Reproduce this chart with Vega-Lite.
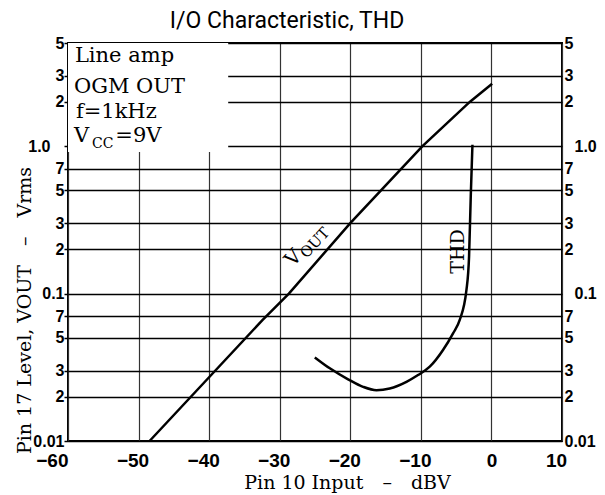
{
  "$schema": "https://vega.github.io/schema/vega-lite/v6.json",
  "width": 494,
  "height": 398,
  "autosize": "none",
  "padding": {"left": 68, "top": 43, "right": 43, "bottom": 54},
  "background": "white",
  "config": {
    "view": {"stroke": "black", "strokeWidth": 2},
    "text": {"color": "black"}
  },
  "title": {
    "text": "I/O Characteristic, THD",
    "font": "Roboto",
    "fontSize": 23,
    "fontWeight": "normal",
    "color": "black",
    "anchor": "middle",
    "frame": "group",
    "offset": 2,
    "dx": -28
  },
  "datasets": {
    "mask": [{"x1": -60, "x2": -37.3, "y1": 5, "y2": 0.91}],
    "vout": [
      {"x": -48.44, "y": 0.01},
      {"x": -32.45, "y": 0.066},
      {"x": -28.7, "y": 0.1},
      {"x": -20, "y": 0.3},
      {"x": -9.77, "y": 1.0},
      {"x": -3.03, "y": 2.0},
      {"x": 0.1, "y": 2.65}
    ],
    "thd": [
      {"x": -25.03, "y": 0.0369},
      {"x": -22.9, "y": 0.0311},
      {"x": -20.31, "y": 0.0262},
      {"x": -18.19, "y": 0.0233},
      {"x": -16.29, "y": 0.0221},
      {"x": -14.41, "y": 0.0227},
      {"x": -12.04, "y": 0.0252},
      {"x": -10.4, "y": 0.028},
      {"x": -8.74, "y": 0.0319},
      {"x": -6.86, "y": 0.0414},
      {"x": -5.44, "y": 0.0537},
      {"x": -4.49, "y": 0.0662},
      {"x": -3.54, "y": 0.1057},
      {"x": -3.17, "y": 0.178},
      {"x": -2.93, "y": 0.455},
      {"x": -2.69, "y": 1.02}
    ],
    "boxtext": [
      {"x": -59.02, "y": 3.73, "t": "Line amp"},
      {"x": -59.16, "y": 2.28, "t": "OGM OUT"},
      {"x": -58.88, "y": 1.549, "t": "f=1kHz"},
      {"x": -59.16, "y": 1.074, "t": "V"},
      {"x": -53.3, "y": 1.074, "t": "=9V"}
    ],
    "boxsub": [{"x": -56.6, "y": 0.973, "t": "CC"}],
    "vlab": [{"x": -26.73, "y": 0.177, "t": "V"}],
    "vsub": [{"x": -26.73, "y": 0.177, "t": "OUT"}],
    "thdlab": [{"x": -3.92, "y": 0.193, "t": "THD"}]
  },
  "resolve": {"axis": {"y": "independent"}},
  "layer": [
    {
      "data": {"name": "mask"},
      "mark": {"type": "rect", "fill": "white", "stroke": null},
      "encoding": {
        "x": {
          "field": "x1", "type": "quantitative",
          "scale": {"domain": [-60, 10], "nice": false, "zero": false},
          "axis": {
            "values": [-60, -50, -40, -30, -20, -10, 0, 10],
            "format": "d",
            "labelFont": "Liberation Sans",
            "labelFontWeight": "bold",
            "labelFontSize": 19,
            "labelColor": "black",
            "labelPadding": 10,
            "labelAlign": {"condition": {"test": "datum.value == -60", "value": "right"}, "value": "center"},
            "labelOffset": {"condition": {"test": "datum.value != 0 && datum.value != -60", "value": -6}, "value": 0},
            "ticks": false,
            "domain": false,
            "grid": true,
            "gridColor": "#333333",
            "gridWidth": 1.2,
            "gridOpacity": 1,
            "title": "Pin 10 Input\u2002\u2002–\u2002\u2002dBV",
            "titleFont": "DejaVu Serif",
            "titleFontSize": 19,
            "titleFontWeight": "normal",
            "titleColor": "black",
            "titleX": 279,
            "titleY": 47,
            "titleAlign": "center",
            "titleBaseline": "alphabetic"
          }
        },
        "x2": {"field": "x2"},
        "y": {
          "field": "y1", "type": "quantitative",
          "scale": {"type": "log", "domain": [0.01, 5], "nice": false},
          "axis": {
            "orient": "left",
            "values": [5, 3, 2, 1, 0.7, 0.5, 0.3, 0.2, 0.1, 0.07, 0.05, 0.03, 0.02, 0.01],
            "labelExpr": "datum.value == 1 ? '1.0' : datum.value == 0.1 ? '0.1' : datum.value == 0.01 ? '0.01' : datum.value >= 1 ? format(datum.value, 'd') : datum.value >= 0.1 ? format(datum.value * 10, 'd') : format(datum.value * 100, 'd')",
            "labelFont": "Liberation Sans",
            "labelFontWeight": "bold",
            "labelFontSize": 16,
            "labelColor": "black",
            "labelPadding": {"condition": {"test": "datum.value == 1", "value": 14}, "value": 0},
            "tickSize": 4,
            "tickColor": "black",
            "tickWidth": 1.5,
            "domain": false,
            "grid": true,
            "gridColor": "black",
            "gridWidth": 1.5,
            "gridOpacity": 1,
            "title": "Pin 17 Level, VOUT\u2002\u2002–\u2002\u2002Vrms",
            "titleFont": "DejaVu Serif",
            "titleFontSize": 19,
            "titleFontWeight": "normal",
            "titleColor": "black",
            "titleAngle": -90,
            "titleX": -38,
            "titleY": 267,
            "titleAlign": "center",
            "titleBaseline": "alphabetic"
          }
        },
        "y2": {"field": "y2"}
      }
    },
    {
      "data": {"name": "vout"},
      "mark": {"type": "line", "color": "black", "strokeWidth": 2.5},
      "encoding": {
        "x": {"field": "x", "type": "quantitative", "scale": {"domain": [-60, 10], "nice": false, "zero": false}},
        "y": {"field": "y", "type": "quantitative", "scale": {"type": "log", "domain": [0.01, 5], "nice": false}, "axis": null}
      }
    },
    {
      "data": {"name": "thd"},
      "mark": {"type": "line", "color": "black", "strokeWidth": 2.5, "interpolate": "monotone"},
      "encoding": {
        "x": {"field": "x", "type": "quantitative", "scale": {"domain": [-60, 10], "nice": false, "zero": false}},
        "y": {"field": "y", "type": "quantitative", "scale": {"type": "log", "domain": [0.01, 5], "nice": false},
          "axis": {
            "orient": "right",
            "values": [5, 3, 2, 1, 0.7, 0.5, 0.3, 0.2, 0.1, 0.07, 0.05, 0.03, 0.02, 0.01],
            "labelExpr": "datum.value == 1 ? '1.0' : datum.value == 0.1 ? '0.1' : datum.value == 0.01 ? '0.01' : datum.value >= 1 ? format(datum.value, 'd') : datum.value >= 0.1 ? format(datum.value * 10, 'd') : format(datum.value * 100, 'd')",
            "labelFont": "Liberation Sans",
            "labelFontWeight": "bold",
            "labelFontSize": 16,
            "labelColor": "black",
            "labelAlign": "left",
            "labelPadding": {"condition": {"test": "datum.value == 1 || datum.value == 0.1", "value": 12}, "value": 2},
            "ticks": false,
            "domain": false,
            "grid": false,
            "title": null
          }
        }
      }
    },
    {
      "data": {"name": "boxtext"},
      "mark": {"type": "text", "font": "DejaVu Serif", "fontSize": 21, "align": "left", "baseline": "alphabetic", "color": "black"},
      "encoding": {
        "x": {"field": "x", "type": "quantitative", "scale": {"domain": [-60, 10], "nice": false, "zero": false}},
        "y": {"field": "y", "type": "quantitative", "scale": {"type": "log", "domain": [0.01, 5], "nice": false}, "axis": null},
        "text": {"field": "t"}
      }
    },
    {
      "data": {"name": "boxsub"},
      "mark": {"type": "text", "font": "DejaVu Serif", "fontSize": 14, "align": "left", "baseline": "alphabetic", "color": "black"},
      "encoding": {
        "x": {"field": "x", "type": "quantitative", "scale": {"domain": [-60, 10], "nice": false, "zero": false}},
        "y": {"field": "y", "type": "quantitative", "scale": {"type": "log", "domain": [0.01, 5], "nice": false}, "axis": null},
        "text": {"field": "t"}
      }
    },
    {
      "data": {"name": "vlab"},
      "mark": {"type": "text", "font": "DejaVu Serif", "fontSize": 20, "align": "right", "baseline": "alphabetic", "angle": -47, "color": "black"},
      "encoding": {
        "x": {"field": "x", "type": "quantitative", "scale": {"domain": [-60, 10], "nice": false, "zero": false}},
        "y": {"field": "y", "type": "quantitative", "scale": {"type": "log", "domain": [0.01, 5], "nice": false}, "axis": null},
        "text": {"field": "t"}
      }
    },
    {
      "data": {"name": "vsub"},
      "mark": {"type": "text", "font": "DejaVu Serif", "fontSize": 15, "align": "left", "baseline": "alphabetic", "angle": -47, "dx": 1, "dy": 4, "color": "black"},
      "encoding": {
        "x": {"field": "x", "type": "quantitative", "scale": {"domain": [-60, 10], "nice": false, "zero": false}},
        "y": {"field": "y", "type": "quantitative", "scale": {"type": "log", "domain": [0.01, 5], "nice": false}, "axis": null},
        "text": {"field": "t"}
      }
    },
    {
      "data": {"name": "thdlab"},
      "mark": {"type": "text", "font": "DejaVu Serif", "fontSize": 19, "align": "center", "baseline": "alphabetic", "angle": -90, "color": "black"},
      "encoding": {
        "x": {"field": "x", "type": "quantitative", "scale": {"domain": [-60, 10], "nice": false, "zero": false}},
        "y": {"field": "y", "type": "quantitative", "scale": {"type": "log", "domain": [0.01, 5], "nice": false}, "axis": null},
        "text": {"field": "t"}
      }
    }
  ]
}
